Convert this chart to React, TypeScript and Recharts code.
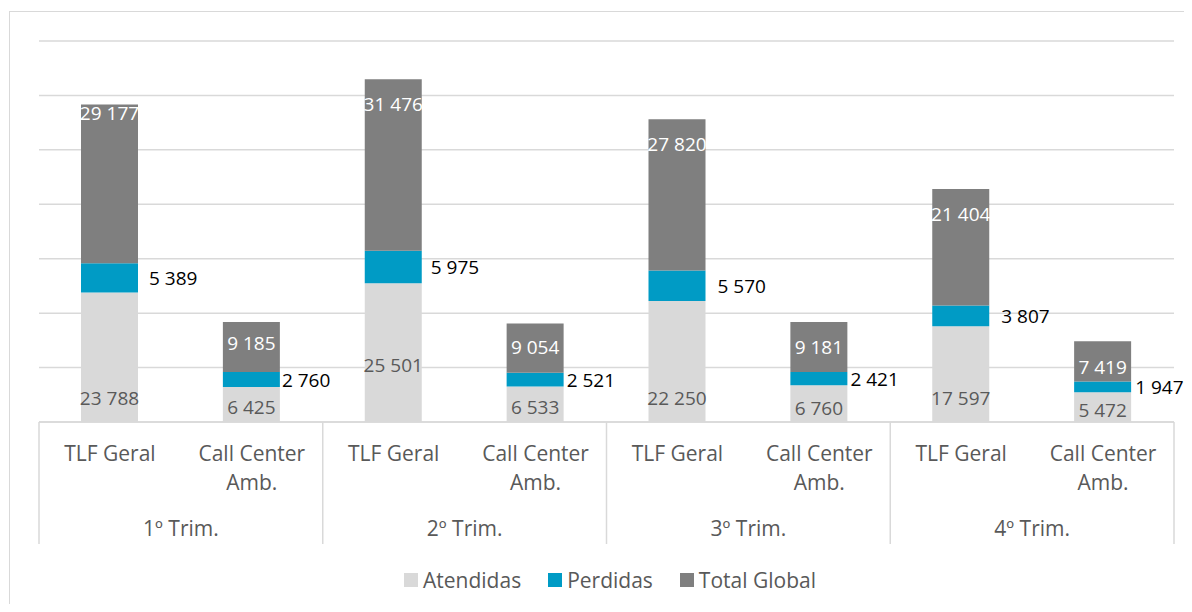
import React from 'react';
import { BarChart, Bar, XAxis, YAxis, CartesianGrid, Legend, LabelList } from 'recharts';

const categories = ['TLF Geral', 'Call Center Amb.', 'TLF Geral', 'Call Center Amb.', 'TLF Geral', 'Call Center Amb.', 'TLF Geral', 'Call Center Amb.'];
const quarters = ['1º Trim.', '1º Trim.', '2º Trim.', '2º Trim.', '3º Trim.', '3º Trim.', '4º Trim.', '4º Trim.'];
const atendidas = [23788, 6425, 25501, 6533, 22250, 6760, 17597, 5472];
const perdidas = [5389, 2760, 5975, 2521, 5570, 2421, 3807, 1947];
const totalGlobal = [29177, 9185, 31476, 9054, 27820, 9181, 21404, 7419];
const yTicks = [0, 10000, 20000, 30000, 40000, 50000, 60000, 70000];

const data = categories.map((cat, i) => ({
  key: `${quarters[i]}|${cat}|${i}`,
  cat,
  quarter: quarters[i],
  atendidas: atendidas[i],
  perdidas: perdidas[i],
  total: totalGlobal[i],
}));

// layout
const W = 1184;
const H = 596;
const M = { top: 33, right: 18, left: 31, bottom: 30 };
const AXIS_H = 122;
const BAND = (W - M.left - M.right) / categories.length;
const FONT = '"Open Sans", sans-serif';
const GRID = '#D9D9D9';
const TXT = '#595959';
const COLORS = { atendidas: '#D9D9D9', perdidas: '#009BC5', total: '#7F7F7F' };

// label tweaks, as placed in the original
const ATT_LABEL_LIFT = [24, 15, 57, 15, 24, 14, 24, 12];
const TOTAL_LABEL_DROP = [9, 21, 25, 24, 25, 25, 25, 26];
const LOST_LABEL_GAP = [11, 2, 9, 3, 12, 3, 12, 4];

const fmt = (v: number) => String(v).replace(/\B(?=(\d{3})+(?!\d))/g, ' ');

const AxisTick = (props: any) => {
  const { x, y, payload } = props;
  const i = payload.index;
  const cat = categories[i];
  const lines = cat === 'Call Center Amb.' ? ['Call Center', 'Amb.'] : [cat];
  return (
    <g>
      {lines.map((l, k) => (
        <text key={k} x={x} y={y + 31 + k * 29} textAnchor="middle" dominantBaseline="central"
          fill={TXT} fontSize={21} fontFamily={FONT}>{l}</text>
      ))}
      {i % 2 === 0 && (
        <>
          <line x1={x - BAND / 2} x2={x - BAND / 2} y1={y} y2={y + AXIS_H} stroke={GRID} strokeWidth={1.5} />
          <text x={x + BAND / 2} y={y + 106} textAnchor="middle" dominantBaseline="central"
            fill={TXT} fontSize={21} fontFamily={FONT}>{quarters[i]}</text>
        </>
      )}
      {i === categories.length - 1 && (
        <line x1={x + BAND / 2} x2={x + BAND / 2} y1={y} y2={y + AXIS_H} stroke={GRID} strokeWidth={1.5} />
      )}
    </g>
  );
};

const AttLabel = (props: any) => {
  const { x, y, width, height, value, index } = props;
  return (
    <text x={x + width / 2} y={y + height - ATT_LABEL_LIFT[index]} textAnchor="middle" dominantBaseline="central"
      fill={TXT} fontSize={19} fontFamily={FONT}>{fmt(value)}</text>
  );
};

const LostLabel = (props: any) => {
  const { x, y, width, height, value, index } = props;
  return (
    <text x={x + width + LOST_LABEL_GAP[index]} y={y + height / 2} textAnchor="start" dominantBaseline="central"
      fill="#000" fontSize={19} fontFamily={FONT}>{fmt(value)}</text>
  );
};

const TotalLabel = (props: any) => {
  const { x, y, width, value, index } = props;
  return (
    <text x={x + width / 2} y={y + TOTAL_LABEL_DROP[index]} textAnchor="middle" dominantBaseline="central"
      fill="#fff" fontSize={19} fontFamily={FONT}>{fmt(value)}</text>
  );
};

const legendItems = [
  { name: 'Atendidas', color: COLORS.atendidas },
  { name: 'Perdidas', color: COLORS.perdidas },
  { name: 'Total Global', color: COLORS.total },
];

const LegendContent = () => (
  <div style={{ display: 'flex', justifyContent: 'center', alignItems: 'center', height: 30, paddingLeft: 20, boxSizing: 'border-box', fontFamily: FONT, fontSize: 21, color: TXT }}>
    {legendItems.map((it, k) => (
      <div key={it.name} style={{ display: 'flex', alignItems: 'center', marginLeft: k === 0 ? 0 : 27 }}>
        <span style={{ display: 'inline-block', width: 14, height: 14, background: it.color, marginRight: 5 }} />
        <span>{it.name}</span>
      </div>
    ))}
  </div>
);

export default function App() {
  return (
    <div style={{ position: 'relative', width: W, height: H }}>
      <style>{'html, body { overflow: hidden; } .recharts-surface { overflow: visible; }'}</style>
      <div style={{ position: 'absolute', left: 1, top: 3, width: W - 1, height: 1, background: GRID }} />
      <div style={{ position: 'absolute', left: 1, top: 3, width: 1, height: H + 5, background: GRID }} />
      <BarChart width={W} height={H} data={data} margin={M} barSize={57}>
        <CartesianGrid horizontal vertical={false} stroke={GRID} strokeWidth={1.5} />
        <YAxis hide domain={[0, 70000]} ticks={yTicks} />
        <XAxis dataKey="key" interval={0} height={AXIS_H} tickLine={false} tickSize={0} tickMargin={0}
          axisLine={{ stroke: GRID, strokeWidth: 1.5 }} tick={<AxisTick />} />
        <Legend verticalAlign="bottom" content={<LegendContent />} wrapperStyle={{ top: 557, left: 0, width: W, height: 30 }} />
        <Bar dataKey="atendidas" name="Atendidas" stackId="s" fill={COLORS.atendidas} isAnimationActive={false}>
          <LabelList dataKey="atendidas" content={<AttLabel />} />
        </Bar>
        <Bar dataKey="perdidas" name="Perdidas" stackId="s" fill={COLORS.perdidas} isAnimationActive={false}>
          <LabelList dataKey="perdidas" content={<LostLabel />} />
        </Bar>
        <Bar dataKey="total" name="Total Global" stackId="s" fill={COLORS.total} isAnimationActive={false}>
          <LabelList dataKey="total" content={<TotalLabel />} />
        </Bar>
      </BarChart>
    </div>
  );
}
